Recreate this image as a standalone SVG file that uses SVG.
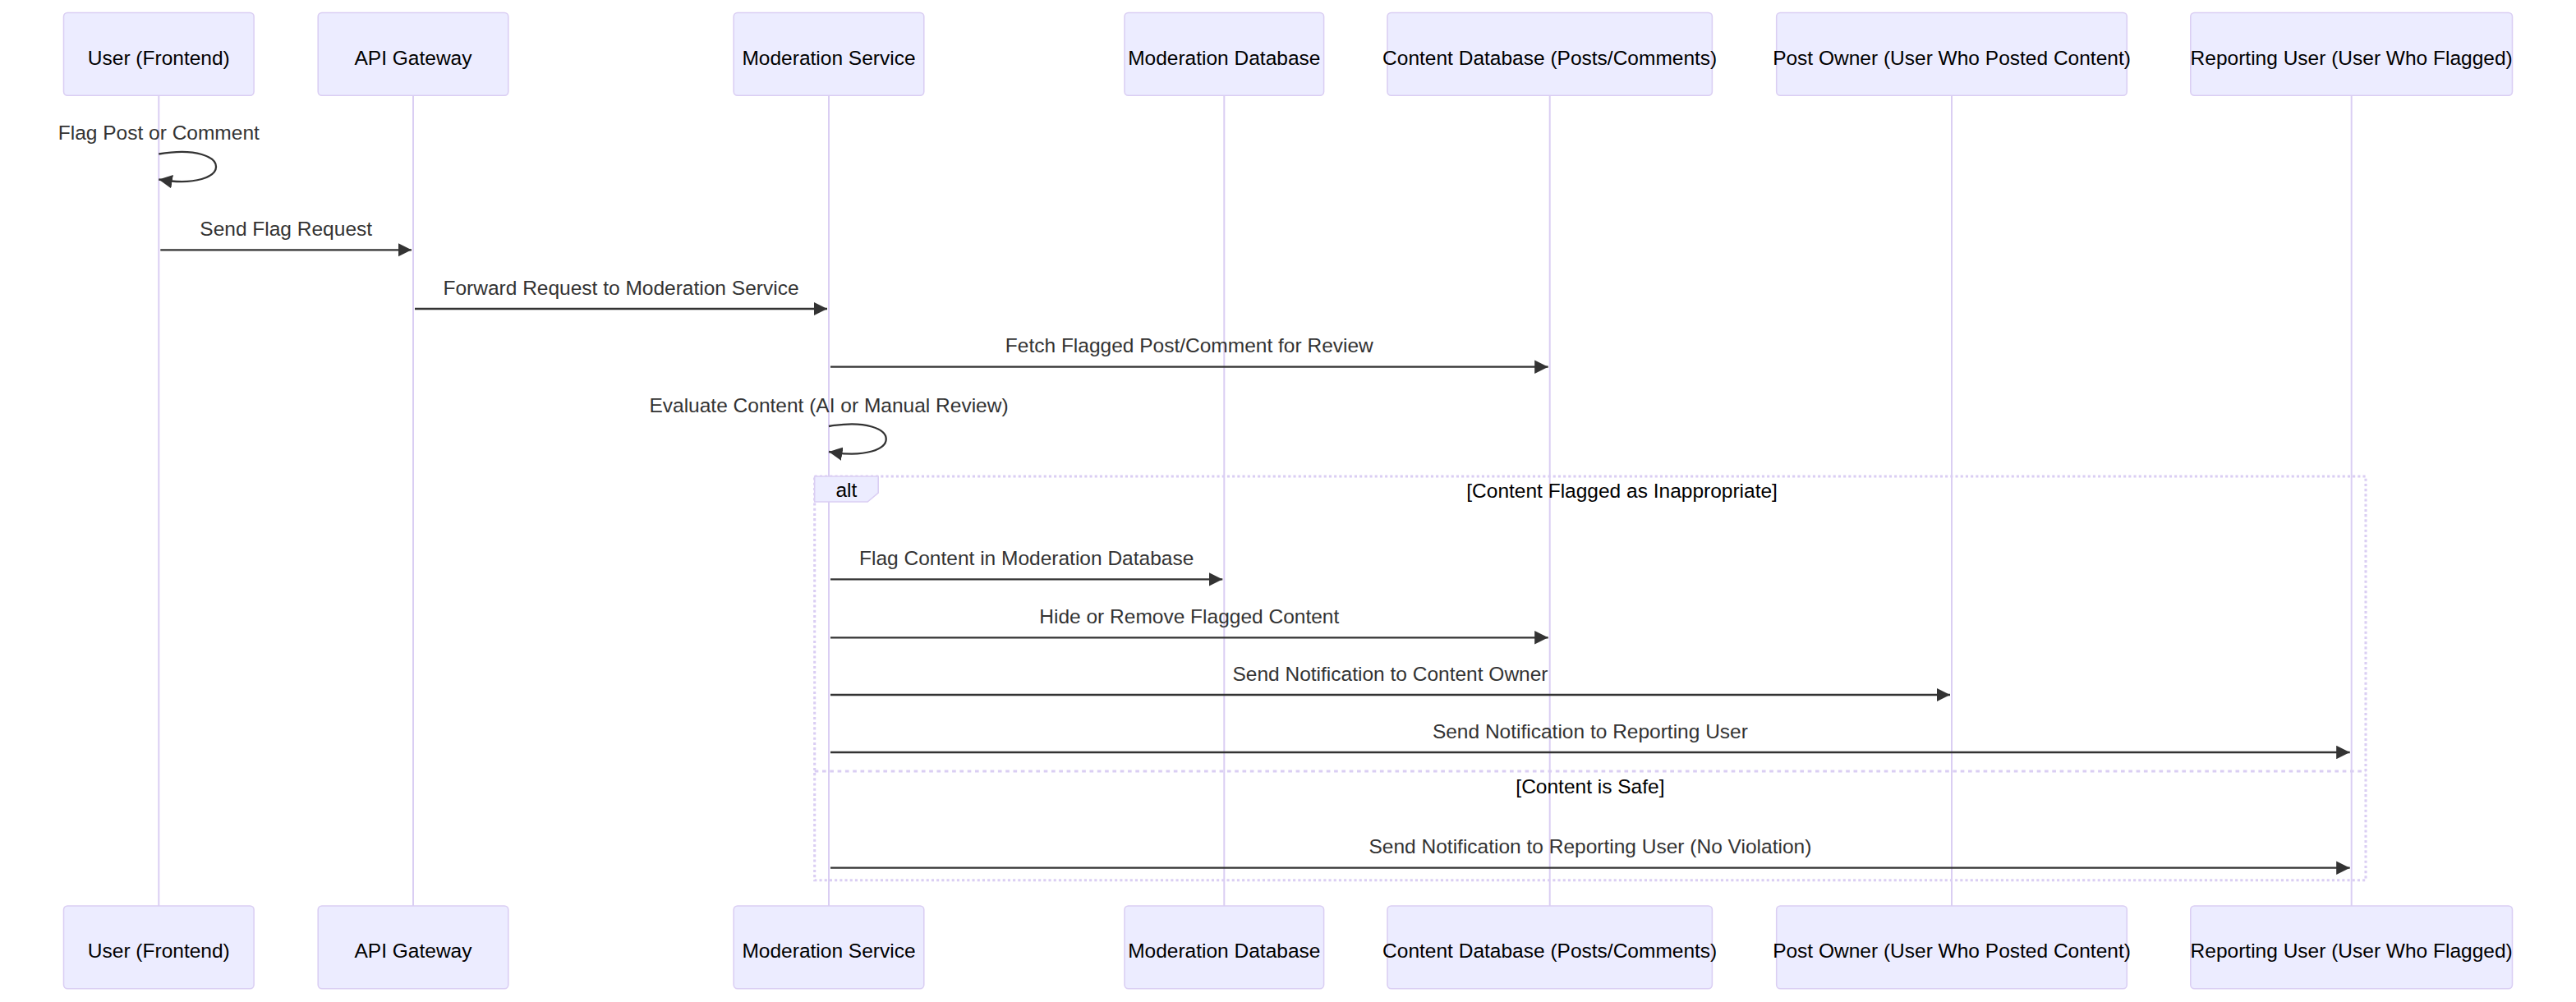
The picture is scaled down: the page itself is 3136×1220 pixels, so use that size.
<svg xmlns="http://www.w3.org/2000/svg" width="3136" height="1220" viewBox="0 0 3136 1220">
<style>
  .bg { fill: #ffffff; }
  .actor { fill: #ECECFF; stroke: #DACEF3; stroke-width: 1.55; }
  .actorText { font-family: "Liberation Sans", Arial, sans-serif; font-size: 24.5px; fill: #000000; text-anchor: middle; }
  .lifeline { stroke: #DACEF3; stroke-width: 2; fill: none; }
  .msg { stroke: #333333; stroke-width: 2.3; fill: none; }
  .msgText { font-family: "Liberation Sans", Arial, sans-serif; font-size: 24.5px; fill: #333333; text-anchor: middle; }
  .loopLine { stroke: #DACEF3; stroke-width: 3.1; stroke-dasharray: 3.1 3.1; fill: none; }
  .sectionLine { stroke: #DACEF3; stroke-width: 3.1; stroke-dasharray: 4.65 4.65; fill: none; }
  .labelBox { fill: #ECECFF; stroke: #DACEF3; stroke-width: 1.55; }
  .labelText { font-family: "Liberation Sans", Arial, sans-serif; font-size: 24.5px; fill: #000000; text-anchor: middle; }
</style>
<defs>
  <marker id="arrowhead" viewBox="0 0 10 10" markerUnits="userSpaceOnUse" markerWidth="16.5" markerHeight="16.5" refX="10" refY="5" orient="auto">
    <path d="M0,0 L10,5 L0,10 z" fill="#333333"/>
  </marker>
</defs>
<rect class="bg" x="0" y="0" width="3136" height="1220"/>

<g id="lifelines">
  <line class="lifeline" x1="193.3" y1="116" x2="193.3" y2="1103"/>
  <line class="lifeline" x1="503" y1="116" x2="503" y2="1103"/>
  <line class="lifeline" x1="1009" y1="116" x2="1009" y2="1103"/>
  <line class="lifeline" x1="1490.3" y1="116" x2="1490.3" y2="1103"/>
  <line class="lifeline" x1="1886.7" y1="116" x2="1886.7" y2="1103"/>
  <line class="lifeline" x1="2376" y1="116" x2="2376" y2="1103"/>
  <line class="lifeline" x1="2862.7" y1="116" x2="2862.7" y2="1103"/>
</g>

<g id="actor-user">
  <rect class="actor" x="77.5" y="15.5" width="231.6" height="100.75" rx="4.65" ry="4.65"/>
  <text class="actorText" x="193.3" y="78.5">User (Frontend)</text>
  <rect class="actor" x="77.5" y="1103" width="231.6" height="100.75" rx="4.65" ry="4.65"/>
  <text class="actorText" x="193.3" y="1166">User (Frontend)</text>
</g>
<g id="actor-api">
  <rect class="actor" x="387.2" y="15.5" width="231.6" height="100.75" rx="4.65" ry="4.65"/>
  <text class="actorText" x="503" y="78.5">API Gateway</text>
  <rect class="actor" x="387.2" y="1103" width="231.6" height="100.75" rx="4.65" ry="4.65"/>
  <text class="actorText" x="503" y="1166">API Gateway</text>
</g>
<g id="actor-modservice">
  <rect class="actor" x="893.2" y="15.5" width="231.6" height="100.75" rx="4.65" ry="4.65"/>
  <text class="actorText" x="1009" y="78.5">Moderation Service</text>
  <rect class="actor" x="893.2" y="1103" width="231.6" height="100.75" rx="4.65" ry="4.65"/>
  <text class="actorText" x="1009" y="1166">Moderation Service</text>
</g>
<g id="actor-moddb">
  <rect class="actor" x="1369" y="15.5" width="242.6" height="100.75" rx="4.65" ry="4.65"/>
  <text class="actorText" x="1490.3" y="78.5">Moderation Database</text>
  <rect class="actor" x="1369" y="1103" width="242.6" height="100.75" rx="4.65" ry="4.65"/>
  <text class="actorText" x="1490.3" y="1166">Moderation Database</text>
</g>
<g id="actor-contentdb">
  <rect class="actor" x="1689" y="15.5" width="395.4" height="100.75" rx="4.65" ry="4.65"/>
  <text class="actorText" x="1886.7" y="78.5">Content Database (Posts/Comments)</text>
  <rect class="actor" x="1689" y="1103" width="395.4" height="100.75" rx="4.65" ry="4.65"/>
  <text class="actorText" x="1886.7" y="1166">Content Database (Posts/Comments)</text>
</g>
<g id="actor-postowner">
  <rect class="actor" x="2162.7" y="15.5" width="426.6" height="100.75" rx="4.65" ry="4.65"/>
  <text class="actorText" x="2376" y="78.5">Post Owner (User Who Posted Content)</text>
  <rect class="actor" x="2162.7" y="1103" width="426.6" height="100.75" rx="4.65" ry="4.65"/>
  <text class="actorText" x="2376" y="1166">Post Owner (User Who Posted Content)</text>
</g>
<g id="actor-reporting">
  <rect class="actor" x="2666.8" y="15.5" width="391.7" height="100.75" rx="4.65" ry="4.65"/>
  <text class="actorText" x="2862.7" y="78.5">Reporting User (User Who Flagged)</text>
  <rect class="actor" x="2666.8" y="1103" width="391.7" height="100.75" rx="4.65" ry="4.65"/>
  <text class="actorText" x="2862.7" y="1166">Reporting User (User Who Flagged)</text>
</g>

<g id="alt-frame">
  <rect class="loopLine" x="991.7" y="580" width="1888.3" height="491.7"/>
  <line class="sectionLine" x1="991.7" y1="939" x2="2880" y2="939"/>
  <polygon class="labelBox" points="991.7,580 1069.2,580 1069.2,600.2 1056.2,611 991.7,611"/>
  <text class="labelText" x="1030.4" y="605">alt</text>
  <text class="labelText" x="1974.6" y="606">[Content Flagged as Inappropriate]</text>
  <text class="labelText" x="1935.9" y="966">[Content is Safe]</text>
</g>

<g id="connectors">
  <path class="msg" d="M193.3,187.5 C286.3,172 286.3,234 193.3,218.5" marker-end="url(#arrowhead)"/>
  <text class="msgText" x="193.3" y="170">Flag Post or Comment</text>

  <line class="msg" x1="195.3" y1="304.3" x2="501" y2="304.3" marker-end="url(#arrowhead)"/>
  <text class="msgText" x="348.2" y="286.7">Send Flag Request</text>

  <line class="msg" x1="505" y1="376" x2="1007" y2="376" marker-end="url(#arrowhead)"/>
  <text class="msgText" x="756" y="358.5">Forward Request to Moderation Service</text>

  <line class="msg" x1="1011" y1="446.7" x2="1884.7" y2="446.7" marker-end="url(#arrowhead)"/>
  <text class="msgText" x="1447.8" y="429.2">Fetch Flagged Post/Comment for Review</text>

  <path class="msg" d="M1009,519 C1102,503.5 1102,565.5 1009,550" marker-end="url(#arrowhead)"/>
  <text class="msgText" x="1009" y="501.7">Evaluate Content (AI or Manual Review)</text>

  <line class="msg" x1="1011" y1="705.3" x2="1488.3" y2="705.3" marker-end="url(#arrowhead)"/>
  <text class="msgText" x="1249.7" y="687.8">Flag Content in Moderation Database</text>

  <line class="msg" x1="1011" y1="776.3" x2="1884.7" y2="776.3" marker-end="url(#arrowhead)"/>
  <text class="msgText" x="1447.8" y="758.8">Hide or Remove Flagged Content</text>

  <line class="msg" x1="1011" y1="846" x2="2374" y2="846" marker-end="url(#arrowhead)"/>
  <text class="msgText" x="1692.5" y="828.5">Send Notification to Content Owner</text>

  <line class="msg" x1="1011" y1="916" x2="2860.7" y2="916" marker-end="url(#arrowhead)"/>
  <text class="msgText" x="1935.9" y="898.5">Send Notification to Reporting User</text>

  <line class="msg" x1="1011" y1="1056.7" x2="2860.7" y2="1056.7" marker-end="url(#arrowhead)"/>
  <text class="msgText" x="1935.9" y="1039.2">Send Notification to Reporting User (No Violation)</text>
</g>
</svg>
